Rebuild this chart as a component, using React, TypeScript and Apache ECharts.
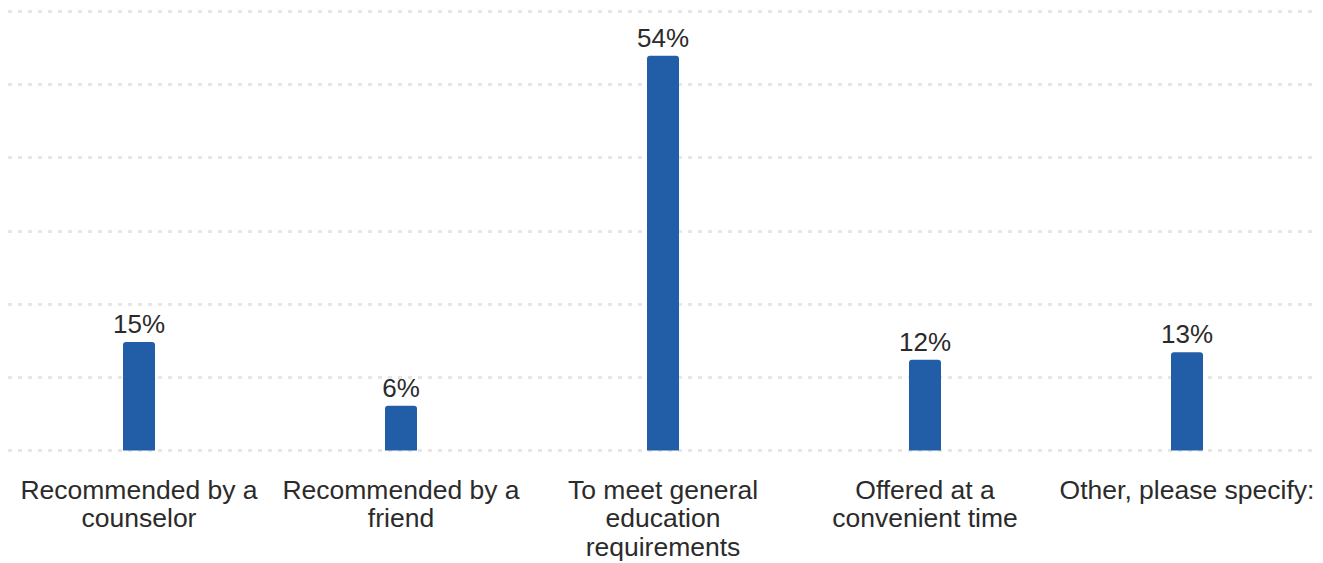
import React, { useEffect, useRef } from "react";
import * as echarts from "echarts";

const categories = [
  "Recommended by a\ncounselor",
  "Recommended by a\nfriend",
  "To meet general\neducation\nrequirements",
  "Offered at a\nconvenient time",
  "Other, please specify:",
];
const values = [14.8, 6.1, 53.9, 12.4, 13.4];
const labels = ["15%", "6%", "54%", "12%", "13%"];

export default function App() {
  const ref = useRef<HTMLDivElement>(null);
  useEffect(() => {
    document.body.style.margin = "0";
    const chart = echarts.init(ref.current!, null, { renderer: "svg" });
    chart.setOption({
      animation: false,
      grid: { left: 8, right: 5, top: 11, bottom: 112.5, containLabel: false },
      xAxis: {
        type: "category",
        data: categories,
        axisLine: { show: false },
        axisTick: { show: false },
        axisLabel: {
          color: "#2b2b2b",
          fontSize: 26.5,
          lineHeight: 28.5,
          margin: 25,
          interval: 0,
          fontFamily: "Liberation Sans, Arial, sans-serif",
        },
      },
      yAxis: {
        type: "value",
        min: 0,
        max: 60,
        interval: 10,
        axisLabel: { show: false },
        axisLine: { show: false },
        axisTick: { show: false },
        splitLine: {
          show: true,
          lineStyle: { color: "#e6e6e6", width: 3, type: [4, 6] },
        },
      },
      series: [
        {
          type: "bar",
          data: values,
          barWidth: 32,
          itemStyle: { color: "#225ea8", borderRadius: [3, 3, 0, 0] },
          label: {
            show: true,
            position: "top",
            distance: 5,
            color: "#2b2b2b",
            fontSize: 26,
            fontFamily: "Liberation Sans, Arial, sans-serif",
            formatter: (p: any) => labels[p.dataIndex],
          },
        },
      ],
    });
    return () => chart.dispose();
  }, []);
  return <div ref={ref} style={{ width: 1323, height: 563 }} />;
}
